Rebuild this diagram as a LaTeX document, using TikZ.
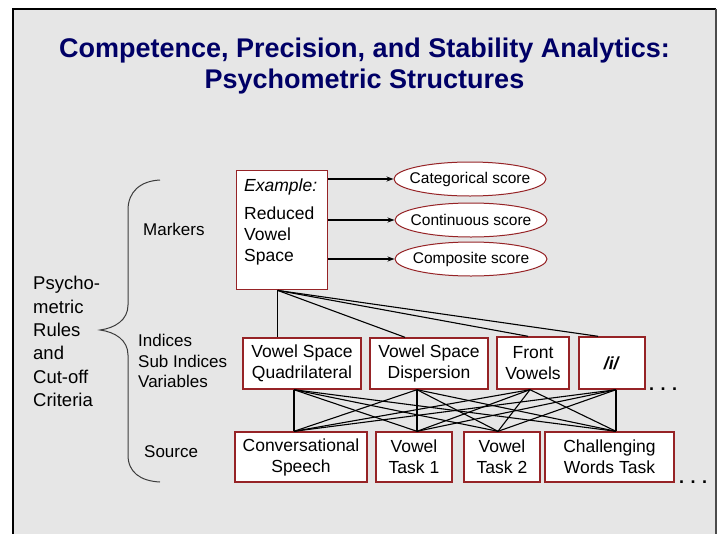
\documentclass[tikz,border=0pt]{standalone}
\usepackage{fontspec}
\setmainfont{Liberation Sans}
\usetikzlibrary{arrows.meta,shapes.geometric,calc}
\definecolor{panel}{RGB}{230,230,230}
\definecolor{boxred}{RGB}{150,35,38}
\definecolor{navy}{RGB}{0,0,102}
\definecolor{bracegray}{RGB}{60,60,60}
\tikzset{
  rbox/.style={draw=boxred,line width=1.4pt,fill=white,align=center,inner sep=0pt,
    font=\fontsize{17.5}{21}\selectfont},
  rell/.style={ellipse,draw=boxred,line width=1pt,fill=white,inner xsep=-7pt,inner ysep=0pt,
    minimum width=152,minimum height=34,font=\fontsize{15.5}{18}\selectfont},
  lbl/.style={anchor=west,align=left,inner sep=0pt,font=\fontsize{17}{20.5}\selectfont},
  conn/.style={line width=1.1pt,black},
  arr/.style={line width=1.1pt,black,-{Stealth[length=7pt,width=5pt]}},
  dots/.style={inner sep=0pt,anchor=base,font=\fontsize{18}{21}\selectfont\bfseries}
}
\newcommand{\mydots}{.\hspace{6.5pt}.\hspace{6.5pt}.}
\begin{document}
\begin{tikzpicture}[x=1pt,y=-1pt]
\useasboundingbox (0,0) rectangle (722,533);
\fill[white] (0,0) rectangle (722,533);
\begin{scope}
\clip (0,0) rectangle (722,533);
\fill[panel] (13,9) rectangle (716,545);
\draw[black,line width=2pt] (13,545) -- (13,9) -- (716,9);
\draw[black!70,line width=1.5pt] (716,9) -- (716,545);
\end{scope}

% title
\node[navy,align=center,inner sep=0pt,font=\fontsize{27}{31}\selectfont\bfseries] (title) at (364.5,66)
  {Competence, Precision, and Stability Analytics:\\Psychometric Structures};

% left label and brace
\node[anchor=north west,align=left,inner sep=0pt,font=\fontsize{18.5}{23.4}\selectfont] (psy) at (33,276)
  {Psycho-\\metric\\Rules\\and\\Cut-off\\Criteria};
\draw[bracegray,line width=1pt] (160,180) .. controls (140,181) and (128,192) .. (128,210)
  -- (128,305) .. controls (128,320) and (115,328) .. (100,330)
  .. controls (115,332) and (128,340) .. (128,355)
  -- (128,455) .. controls (128,472) and (140,481) .. (160,482);

% row labels
\node[lbl] (mkl) at (143,229) {Markers};
\node[lbl] (ixl) at (138,361) {Indices\\Sub Indices\\Variables};
\node[lbl] (srl) at (144,452) {Source};

% marker box
\node[rbox,anchor=north west,minimum width=91,minimum height=119] (mk) at (236,170) {};
\node[anchor=north west,align=left,inner sep=0pt,font=\fontsize{17.5}{21}\selectfont] (mkt) at (244,178.5)
  {\textit{Example:}\\[7pt]Reduced\\Vowel\\Space};

% ellipses
\node[rell] (cat) at (470,179) {Categorical score};
\node[rell] (con) at (471,220) {Continuous score};
\node[rell] (cmp) at (471,259) {Composite score};
\draw[arr] (mk.east |- cat.west) -- (cat.west);
\draw[arr] (mk.east |- con.west) -- (con.west);
\draw[arr] (mk.east |- cmp.west) -- (cmp.west);

% middle boxes
\node[rbox,minimum width=118,minimum height=51] (vsq) at (302,363.5) {Vowel Space\\Quadrilateral};
\node[rbox,minimum width=118,minimum height=51] (vsd) at (429,363.5) {Vowel Space\\Dispersion};
\node[rbox,minimum width=72,minimum height=52] (fv) at (533,363) {Front\\Vowels};
\node[rbox,minimum width=66,minimum height=52] (ii) at (612,363) {\textbf{\textit{/i/}}};
\node[dots] (d1) at (663,390) {\mydots};

% bottom boxes
\node[rbox,minimum width=132,minimum height=50] (cs) at (301,457) {Conversational\\Speech};
\node[rbox,minimum width=76,minimum height=50] (vt1) at (414,457) {Vowel\\Task 1};
\node[rbox,minimum width=76,minimum height=50] (vt2) at (502,457) {Vowel\\Task 2};
\node[rbox,minimum width=129,minimum height=50] (cwt) at (609.5,457) {Challenging\\Words Task};
\node[dots] (d2) at (693,483) {\mydots};

% marker to middle
\coordinate (mkb) at ([xshift=-4.5]mk.south);
\coordinate (vsqT) at (vsq.north -| mkb);
\coordinate (vsdT) at ([xshift=-24]vsd.north);
\coordinate (fvT) at ([xshift=-5]fv.north);
\coordinate (iiT) at ([xshift=-14]ii.north);
\foreach \t in {vsqT,vsdT,fvT,iiT} \draw[conn] (mkb) -- (\t);

% middle to bottom
\coordinate (b1) at ([xshift=-8]vsq.south);
\coordinate (b2) at ([xshift=-12]vsd.south);
\coordinate (b3) at ([xshift=-3]fv.south);
\coordinate (b4) at ([xshift=4]ii.south);
\coordinate (s1) at (cs.north -| b1);
\coordinate (s2) at (vt1.north -| b2);
\coordinate (s3) at ([xshift=-4]vt2.north);
\coordinate (s4) at (cwt.north -| b4);
\foreach \a in {b1,b2,b3,b4}
  \foreach \b in {s1,s2,s3,s4}
    \draw[conn] (\a) -- (\b);
\end{tikzpicture}
\end{document}
